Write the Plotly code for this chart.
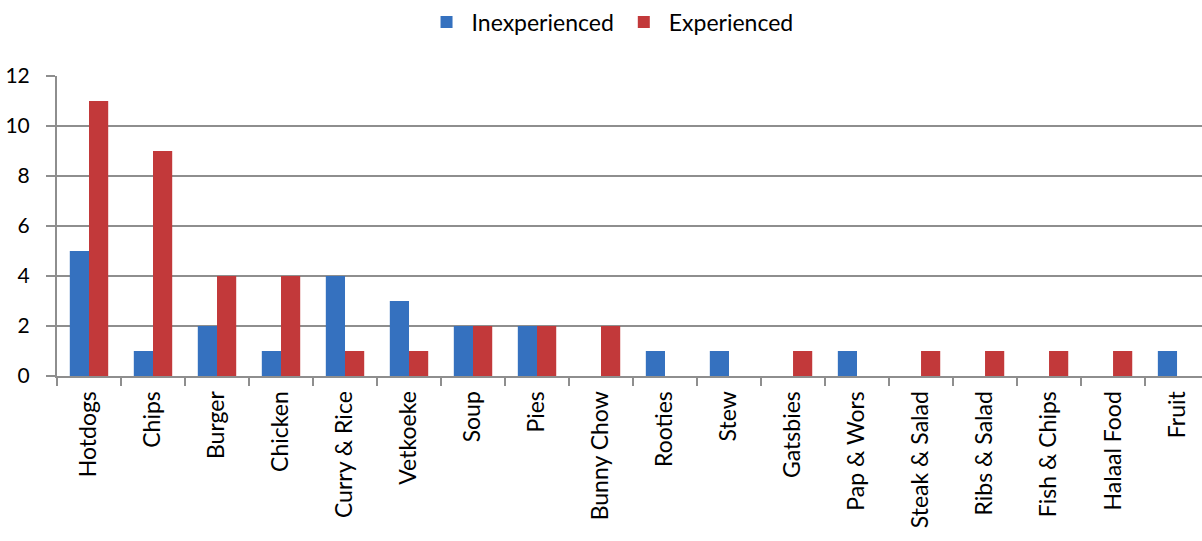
import plotly.graph_objects as go

foods = ["Hotdogs", "Chips", "Burger", "Chicken", "Curry & Rice", "Vetkoeke", "Soup",
         "Pies", "Bunny Chow", "Rooties", "Stew", "Gatsbies", "Pap & Wors",
         "Steak & Salad", "Ribs & Salad", "Fish & Chips", "Halaal Food", "Fruit"]
inexperienced = [5, 1, 2, 1, 4, 3, 2, 2, 0, 1, 1, 0, 1, 0, 0, 0, 0, 1]
experienced = [11, 9, 4, 4, 1, 1, 2, 2, 2, 0, 0, 1, 0, 1, 1, 1, 1, 0]

FONT = "Lato"
grid = "#8e8e8e"

fig = go.Figure()
fig.add_trace(go.Bar(name="Inexperienced", x=foods, y=inexperienced,
                     marker=dict(color="#3571bf", line=dict(width=0))))
fig.add_trace(go.Bar(name="Experienced", x=foods, y=experienced,
                     marker=dict(color="#c2393a", line=dict(width=0))))

fig.update_layout(
    width=1202, height=541,
    margin=dict(l=57, r=0, t=76, b=165),
    paper_bgcolor="white", plot_bgcolor="white",
    barmode="group", bargap=0.40, bargroupgap=0,
    font=dict(family=FONT, size=23, color="#000000"),
    legend=dict(orientation="h", x=0.483, xanchor="center", y=1.18, yanchor="middle",
                font=dict(size=23), itemwidth=40, traceorder="normal"),
    xaxis=dict(
        range=[-0.5, 17.39], tickangle=-90, tickson="boundaries",
        ticks="outside", ticklen=8, tickcolor=grid, tickwidth=2,
        showline=True, linecolor=grid, linewidth=2, showgrid=False,
        tickfont=dict(size=23), ticklabelstandoff=4,
    ),
    yaxis=dict(
        range=[0, 12], dtick=2, showgrid=True, gridcolor=grid, gridwidth=2,
        ticks="outside", ticklen=9, tickcolor=grid, tickwidth=2,
        showline=True, linecolor=grid, linewidth=2, zeroline=False,
        tickfont=dict(size=21), ticklabelstandoff=12,
    ),
)

fig.write_html("out.html")
